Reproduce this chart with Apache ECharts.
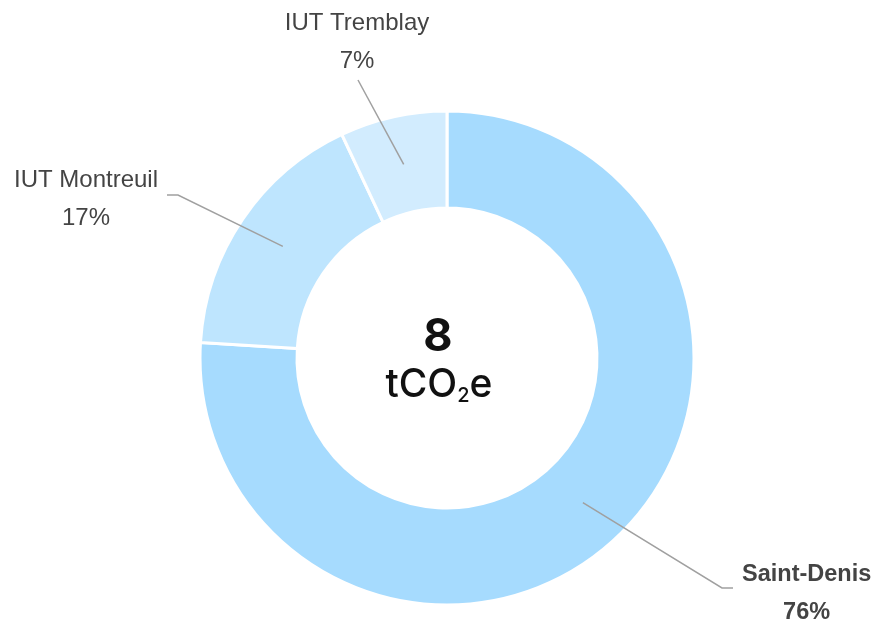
<!DOCTYPE html>
<html>
<head>
<meta charset="utf-8">
<script src="https://cdn.jsdelivr.net/npm/echarts@6/dist/echarts.min.js"></script>
<style>
  html, body { margin: 0; padding: 0; background: #fff; }
  #chart { width: 875px; height: 620px; }
</style>
</head>
<body>
<div id="chart"></div>
<script>
// Emissions split by site (share of total, %)
const sites = ['Saint-Denis', 'IUT Montreuil', 'IUT Tremblay'];
const shares = [76, 17, 7];
const colors = ['#A6DBFE', '#BEE5FE', '#D2ECFE'];
const totalLabel = '8';

const CX = 447, CY = 358, R_IN = 150, R_OUT = 247;
const labelFont = '"Liberation Sans", Arial, sans-serif';
const centerFont = 'Inter, "Noto Sans", sans-serif';

// Where each leader line bends / ends, relative to the ring centre,
// and which side of that point the text sits on.
const leaders = [
  { bend: [275, 230], end: [286, 230], side: 'right' },
  { bend: [-269, -163], end: [-280, -163], side: 'left' },
  { bend: null, end: [-89, -278], side: 'top' }
];

// mid angle of each slice, clockwise from 12 o'clock
const total = shares.reduce((a, b) => a + b, 0);
const midAngles = [];
let acc = 0;
shares.forEach(v => { midAngles.push((acc + v / 2) / total * 2 * Math.PI); acc += v; });

const chart = echarts.init(document.getElementById('chart'));

const common = {
  type: 'pie',
  center: [CX, CY],
  radius: [R_IN, R_OUT],
  startAngle: 90,
  clockwise: true,
  percentPrecision: 0,
  emphasis: { disabled: true }
};

chart.setOption({
  animation: false,
  graphic: [{
    type: 'text',
    x: CX - 9, y: CY - 21,
    style: {
      text: totalLabel,
      font: 'bold 45px ' + centerFont,
      fill: '#111', align: 'center', verticalAlign: 'middle'
    }
  }, {
    type: 'text',
    x: CX - 8, y: CY + 27,
    style: {
      text: '{u|tCO}{s|2}{u|e}',
      align: 'center', verticalAlign: 'middle',
      rich: {
        u: { fontFamily: centerFont, fontSize: 39, fontWeight: 500, fill: '#111', lineHeight: 46 },
        s: { fontFamily: centerFont, fontSize: 20, fontWeight: 500, fill: '#111', lineHeight: 46, padding: [22, 0, 0, 0] }
      }
    }
  }],
  series: [
    // the ring itself
    Object.assign({}, common, {
      itemStyle: { borderColor: '#fff', borderWidth: 3 },
      data: sites.map((name, i) => ({ name, value: shares[i], itemStyle: { color: colors[i] } })),
      label: { show: false },
      labelLine: { show: false }
    }),
    // transparent copy on top carrying the labels, so leader lines cross the ring
    Object.assign({}, common, {
      z: 3,
      silent: true,
      itemStyle: { color: 'rgba(0,0,0,0)', borderWidth: 0 },
      data: sites.map((name, i) => ({
        name,
        value: shares[i],
        label: i === 0 ? { fontWeight: 'bold', fontSize: 23.5 } : {}
      })),
      label: {
        show: true,
        formatter: '{b}\n{d}%',
        fontFamily: labelFont,
        fontSize: 24,
        lineHeight: 38,
        color: '#444',
        align: 'center'
      },
      labelLine: {
        show: true,
        lineStyle: { color: '#a0a0a0', width: 1.5 }
      },
      labelLayout: function (p) {
        const i = p.dataIndex;
        const a = midAngles[i];
        const rm = (R_IN + R_OUT) / 2;
        const start = [CX + rm * Math.sin(a), CY - rm * Math.cos(a)];
        const L = leaders[i];
        const end = [CX + L.end[0], CY + L.end[1]];
        const pts = L.bend ? [start, [CX + L.bend[0], CY + L.bend[1]], end] : [start, start, end];
        const w = p.labelRect.width;
        let x, y;
        if (L.side === 'right') { x = end[0] + 9 + w / 2; y = end[1] + 6; }
        else if (L.side === 'left') { x = end[0] - 9 - w / 2; y = end[1] + 4; }
        else { x = end[0] - 1; y = end[1] - 38; }
        return { x, y, align: 'center', verticalAlign: 'middle', labelLinePoints: pts };
      }
    })
  ]
});
</script>
</body>
</html>
